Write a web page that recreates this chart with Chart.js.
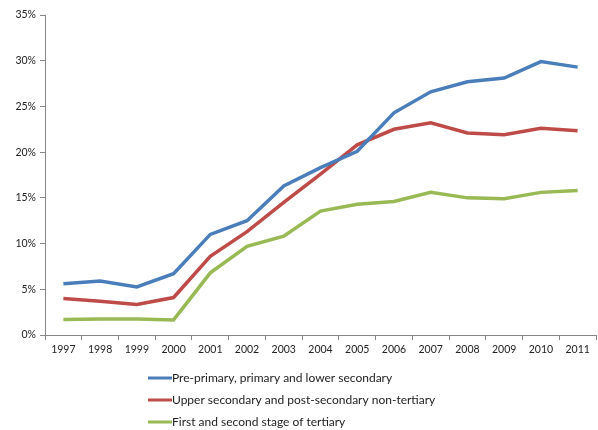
<!DOCTYPE html>
<html lang="en">
<head>
  <meta charset="UTF-8" />
  <title>Share by education level</title>
  <script src="https://cdn.jsdelivr.net/npm/chart.js"></script>
  <style>
    html, body { margin: 0; padding: 0; background: #fff; }
    .wrap { width: 598px; height: 430px; position: relative; }
  </style>
</head>
<body>
  <div class="wrap"><canvas id="chart"></canvas></div>

  <script>
    const years = ['1997', '1998', '1999', '2000', '2001', '2002', '2003', '2004',
                   '2005', '2006', '2007', '2008', '2009', '2010', '2011'];
    const seriesNames = [
      'Pre-primary, primary and lower secondary',
      'Upper secondary and post-secondary non-tertiary',
      'First and second stage of tertiary'
    ];
    const primaryLower = [5.6, 5.9, 5.25, 6.7, 11.0, 12.5, 16.3, 18.3, 20.1, 24.3, 26.6, 27.7, 28.1, 29.9, 29.3];
    const upperSecondary = [4.0, 3.7, 3.35, 4.1, 8.6, 11.3, 14.5, 17.6, 20.8, 22.5, 23.2, 22.1, 21.9, 22.6, 22.35];
    const tertiary = [1.7, 1.75, 1.75, 1.65, 6.8, 9.7, 10.8, 13.55, 14.3, 14.6, 15.6, 15.0, 14.9, 15.6, 15.8];
    const yTicks = [0, 5, 10, 15, 20, 25, 30, 35];

    const colors = ['#4a7ebb', '#be4b48', '#98b954'];
    const font = { family: 'Lato, "Open Sans", sans-serif', size: 10.5 };

    // legend stacked one item per row under the axis (the built-in one wraps sideways)
    const stackedLegend = {
      id: 'stackedLegend',
      afterDraw(chart) {
        const ctx = chart.ctx;
        const x0 = 148, lineLen = 24;
        let y = chart.chartArea.bottom + 43;
        ctx.save();
        ctx.font = '12px Lato, "Open Sans", sans-serif';
        ctx.textBaseline = 'middle';
        chart.data.datasets.forEach(ds => {
          ctx.strokeStyle = ds.borderColor;
          ctx.lineWidth = 3;
          ctx.beginPath();
          ctx.moveTo(x0, y);
          ctx.lineTo(x0 + lineLen, y);
          ctx.stroke();
          ctx.fillStyle = '#222';
          ctx.fillText(ds.label, x0 + lineLen, y);
          y += 22;
        });
        ctx.restore();
      }
    };

    new Chart(document.getElementById('chart'), {
      type: 'line',
      data: {
        labels: years,
        datasets: [primaryLower, upperSecondary, tertiary].map((d, i) => ({
          label: seriesNames[i],
          data: d,
          borderColor: colors[i],
          backgroundColor: colors[i],
          borderWidth: 3.5,
          pointRadius: 0,
          tension: 0,
          fill: false
        }))
      },
      options: {
        responsive: true,
        maintainAspectRatio: false,
        animation: false,
        layout: { padding: { top: 15, right: 2, left: 0, bottom: 0 } },
        plugins: {
          legend: { display: false },
          tooltip: { enabled: false }
        },
        scales: {
          x: {
            offset: true,
            grid: { drawOnChartArea: false, color: '#868686', tickLength: 5, offset: true },
            border: { color: '#868686' },
            ticks: { color: '#222', font: font, maxRotation: 0, padding: 3 },
            afterFit: s => { s.height = 95; }
          },
          y: {
            min: 0,
            max: 35,
            grid: { drawOnChartArea: false, color: '#868686', tickLength: 5 },
            border: { color: '#868686' },
            afterBuildTicks: s => { s.ticks = yTicks.map(v => ({ value: v })); },
            ticks: { color: '#222', font: font, padding: 4, callback: v => v + '%' },
            afterFit: s => { s.width = 45; }
          }
        }
      },
      plugins: [stackedLegend]
    });
  </script>
</body>
</html>
